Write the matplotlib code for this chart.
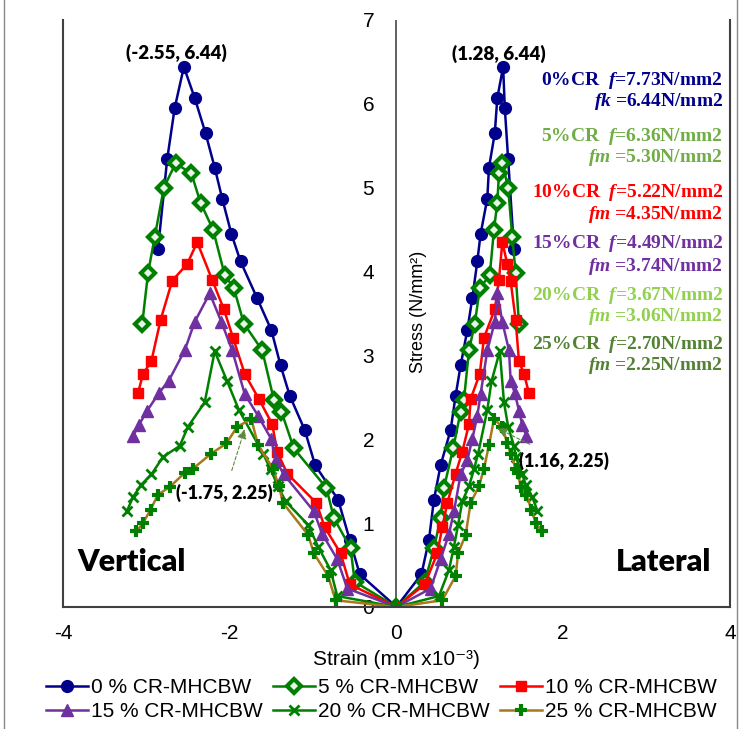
import matplotlib
matplotlib.use("Agg")
import matplotlib.pyplot as plt
from matplotlib.lines import Line2D
import matplotlib.transforms as mtransforms

plt.rcParams['mathtext.fontset'] = 'custom'
plt.rcParams['mathtext.it'] = 'Liberation Serif:italic:bold'
plt.rcParams['mathtext.rm'] = 'Liberation Serif:bold'

# ---------------- data ----------------
labels = ["0 % CR-MHCBW", "5 % CR-MHCBW", "10 % CR-MHCBW",
          "15 % CR-MHCBW", "20 % CR-MHCBW", "25 % CR-MHCBW"]

stress_0 = [0, 0.39, 0.80, 1.28, 1.69, 2.11, 2.52, 2.88, 3.30, 3.68, 4.12, 4.45, 4.87, 5.24, 5.65, 6.07, 6.44, 5.95, 5.34, 4.27]
vert_0 = [0, -0.44, -0.56, -0.70, -0.975, -1.10, -1.28, -1.39, -1.50, -1.67, -1.87, -1.98, -2.09, -2.18, -2.29, -2.42, -2.55, -2.66, -2.75, -2.86]
lat_0 = [0, 0.30, 0.39, 0.45, 0.53, 0.65, 0.71, 0.77, 0.85, 0.91, 0.97, 1.01, 1.09, 1.11, 1.18, 1.21, 1.28, 1.30, 1.34, 1.41]

stress_5 = [0, 0.30, 0.70, 1.06, 1.42, 1.89, 2.33, 2.47, 3.06, 3.38, 3.80, 3.96, 4.50, 4.82, 5.17, 5.29, 5.00, 4.41, 3.98, 3.37]
vert_5 = [0, -0.50, -0.55, -0.75, -0.84, -1.23, -1.38, -1.47, -1.61, -1.83, -1.95, -2.06, -2.20, -2.35, -2.46, -2.65, -2.79, -2.90, -2.98, -3.05]
lat_5 = [0, 0.34, 0.45, 0.53, 0.57, 0.68, 0.77, 0.81, 0.87, 0.94, 1.00, 1.12, 1.17, 1.21, 1.23, 1.27, 1.34, 1.39, 1.43, 1.47]

stress_10 = [0, 0.27, 0.64, 0.95, 1.24, 1.59, 1.85, 2.18, 2.48, 2.78, 3.21, 3.55, 3.90, 4.35, 4.09, 3.89, 3.42, 2.93, 2.78, 2.55]
vert_10 = [0, -0.56, -0.67, -0.86, -0.96, -1.31, -1.43, -1.49, -1.65, -1.82, -1.96, -2.07, -2.21, -2.39, -2.51, -2.69, -2.83, -2.94, -3.04, -3.10]
lat_10 = [0, 0.34, 0.49, 0.55, 0.61, 0.71, 0.79, 0.87, 0.89, 1.00, 1.05, 1.18, 1.23, 1.27, 1.33, 1.37, 1.43, 1.47, 1.53, 1.59]

stress_15 = [0, 0.22, 0.57, 0.87, 1.14, 1.58, 1.75, 2.00, 2.28, 2.54, 3.06, 3.40, 3.74, 3.40, 3.06, 2.70, 2.55, 2.34, 2.17, 2.04]
vert_15 = [0, -0.59, -0.71, -0.89, -0.99, -1.35, -1.45, -1.50, -1.66, -1.82, -1.97, -2.10, -2.24, -2.42, -2.54, -2.73, -2.85, -2.99, -3.09, -3.16]
lat_15 = [0, 0.41, 0.53, 0.63, 0.69, 0.77, 0.85, 0.91, 0.97, 1.01, 1.09, 1.18, 1.21, 1.27, 1.35, 1.37, 1.42, 1.47, 1.51, 1.56]

stress_20 = [0, 0.13, 0.44, 0.72, 0.98, 1.26, 1.44, 1.64, 1.83, 2.35, 2.69, 3.05, 2.44, 2.15, 1.92, 1.79, 1.58, 1.46, 1.31, 1.15]
vert_20 = [0, -0.71, -0.79, -0.94, -1.06, -1.33, -1.42, -1.51, -1.60, -1.89, -2.03, -2.18, -2.30, -2.50, -2.60, -2.80, -2.94, -3.06, -3.16, -3.23]
lat_20 = [0, 0.51, 0.63, 0.69, 0.74, 0.79, 0.87, 0.93, 0.98, 1.09, 1.14, 1.24, 1.29, 1.34, 1.41, 1.43, 1.51, 1.55, 1.63, 1.69]

stress_25 = [0, 0.08, 0.37, 0.64, 0.86, 1.24, 1.44, 1.65, 1.93, 2.24, 2.15, 1.95, 1.83, 1.65, 1.60, 1.43, 1.34, 1.16, 1.00, 0.90]
vert_25 = [0, -0.73, -0.82, -0.99, -1.06, -1.36, -1.41, -1.48, -1.66, -1.74, -1.91, -2.04, -2.22, -2.44, -2.54, -2.72, -2.86, -2.95, -3.04, -3.12]
lat_25 = [0, 0.55, 0.71, 0.74, 0.83, 0.89, 0.99, 1.05, 1.11, 1.17, 1.27, 1.33, 1.37, 1.43, 1.46, 1.49, 1.56, 1.62, 1.67, 1.75]

info_lines = [
    ("0%CR  $f$=7.73N/mm2", "$fk$ =6.44N/mm2"),
    ("5%CR  $f$=6.36N/mm2", "$fm$ =5.30N/mm2"),
    ("10%CR  $f$=5.22N/mm2", "$fm$ =4.35N/mm2"),
    ("15%CR  $f$=4.49N/mm2", "$fm$ =3.74N/mm2"),
    ("20%CR  $f$=3.67N/mm2", "$fm$ =3.06N/mm2"),
    ("25%CR  $f$=2.70N/mm2", "$fm$ =2.25N/mm2"),
]

xticks = [-4, -2, 0, 2, 4]
yticks = [0, 1, 2, 3, 4, 5, 6, 7]

# ---------------- style ----------------
series = [
    (stress_0, vert_0, lat_0, dict(color="#00008B", marker="o", ms=8.5, mfc="#00008B", mec="#00008B", mew=1)),
    (stress_5, vert_5, lat_5, dict(color="#008000", marker="D", ms=7.5, mfc="#e8f4e8", mec="#008000", mew=3)),
    (stress_10, vert_10, lat_10, dict(color="#FF0000", marker="s", ms=6.5, mfc="#FF0000", mec="#FF0000", mew=1)),
    (stress_15, vert_15, lat_15, dict(color="#7030A0", marker="^", ms=9, mfc="#7030A0", mec="#7030A0", mew=1)),
    (stress_20, vert_20, lat_20, dict(color="#008000", marker="x", ms=7.5, mfc="#008000", mec="#008000", mew=2)),
    (stress_25, vert_25, lat_25, dict(color="#A8781C", marker="+", ms=9, mfc="#008000", mec="#008000", mew=3)),
]
info_colors = ["#00008B", "#70AD47", "#FF0000", "#7030A0", "#92D050", "#548235"]

fig = plt.figure(figsize=(7.41, 7.29), dpi=100)
ax = fig.add_axes([0.085, 0.1674, 0.9, 0.8052])

for (s, v, l, st) in series:
    xs = list(reversed(v)) + l[1:]
    ys = list(reversed(s)) + s[1:]
    ax.plot(xs, ys, lw=1.8, color=st["color"], marker=st["marker"], ms=st["ms"],
            mfc=st["mfc"], mec=st["mec"], mew=st["mew"])

ax.set_xlim(-4, 4)
ax.set_ylim(0, 7)
ax.set_xticks(xticks)
ax.set_yticks(yticks)
ax.set_xticklabels([str(t) for t in xticks], fontsize=15, family="Liberation Sans")
ax.set_yticklabels([str(t) for t in yticks], fontsize=15, family="Liberation Sans")
ax.tick_params(axis="x", length=0, pad=12)
ax.tick_params(axis="y", length=0, pad=16)

ax.spines['top'].set_visible(False)
for sp in ['left', 'right', 'bottom']:
    ax.spines[sp].set_color("#404040")
    ax.spines[sp].set_linewidth(1.5)
ax.axvline(0, color="#555555", lw=1.3, zorder=0.5)
offset = mtransforms.ScaledTranslation(4 * 0.9 * 7.41 / 8.0, 0, fig.dpi_scale_trans)
for lab in ax.get_yticklabels():
    lab.set_transform(lab.get_transform() + offset)

ax.set_xlabel("Strain (mm x10\u207b\u00b3)", fontsize=15, family=["Liberation Sans", "DejaVu Sans"], labelpad=5)
ax.text(0.27, 3.52, "Stress (N/mm\u00b2)", rotation=90, fontsize=13,
        family=["Liberation Sans", "DejaVu Sans"], ha="center", va="center")

# peak labels
ax.text(-2.64, 6.61, "(-2.55, 6.44)", fontsize=13.5, fontweight="heavy", family="Lato", ha="center", va="center")
ax.text(1.23, 6.59, "(1.28, 6.44)", fontsize=13.5, fontweight="heavy", family="Lato", ha="center", va="center")
ax.annotate("(-1.75, 2.25)", xy=(-1.82, 2.12), xytext=(-2.06, 1.36), fontsize=13, fontweight="heavy",
            family="Lato", ha="center", va="center",
            arrowprops=dict(arrowstyle="-|>", color="#5E8A3A", lw=0.8, ls=(0, (3, 2)),
                            mutation_scale=14, shrinkA=8, shrinkB=0))
ax.annotate("(1.16, 2.25)", xy=(1.21, 2.13), xytext=(2.01, 1.74), fontsize=13, fontweight="heavy",
            family="Lato", ha="center", va="center",
            arrowprops=dict(arrowstyle="-|>", color="#5E8A3A", lw=0.8, ls=(0, (3, 2)),
                            mutation_scale=14, shrinkA=8, shrinkB=0))

ax.text(-3.18, 0.54, "Vertical", fontsize=22, fontweight="heavy", family="Lato", ha="center", va="center")
ax.text(3.21, 0.54, "Lateral", fontsize=22, fontweight="heavy", family="Lato", ha="center", va="center")

# info texts
ys_info = [(6.28, 6.03), (5.61, 5.36), (4.94, 4.68), (4.33, 4.06), (3.72, 3.46), (3.13, 2.88)]
for (l1, l2), (y1, y2), c in zip(info_lines, ys_info, info_colors):
    ax.text(3.92, y1, l1, color=c, fontsize=14, family="Liberation Serif", fontweight="bold",
            ha="right", va="center")
    ax.text(3.92, y2, l2, color=c, fontsize=14, family="Liberation Serif", fontweight="bold",
            ha="right", va="center")

# legend (row-wise order like reference)
leg_handles = []
for (s, v, l, st) in series:
    leg_handles.append(Line2D([0], [0], color=st["color"], lw=1.8, marker=st["marker"], ms=st["ms"],
                              mfc=st["mfc"], mec=st["mec"], mew=st["mew"]))
order = [0, 3, 1, 4, 2, 5]
fig.legend([leg_handles[i] for i in order], [labels[i] for i in order], loc="center",
           bbox_to_anchor=(0.515, 0.04), ncol=3, frameon=False,
           prop={"family": "Liberation Sans", "size": 15}, handlelength=2.0, handletextpad=0.15,
           columnspacing=0.5, labelspacing=0.25)

# outer border lines
fig.add_artist(Line2D([4 / 741, 4 / 741], [0, 1], color="#888888", lw=1, transform=fig.transFigure))
fig.add_artist(Line2D([737 / 741, 737 / 741], [0, 1], color="#888888", lw=1, transform=fig.transFigure))

fig.savefig("out.png", dpi=100)
